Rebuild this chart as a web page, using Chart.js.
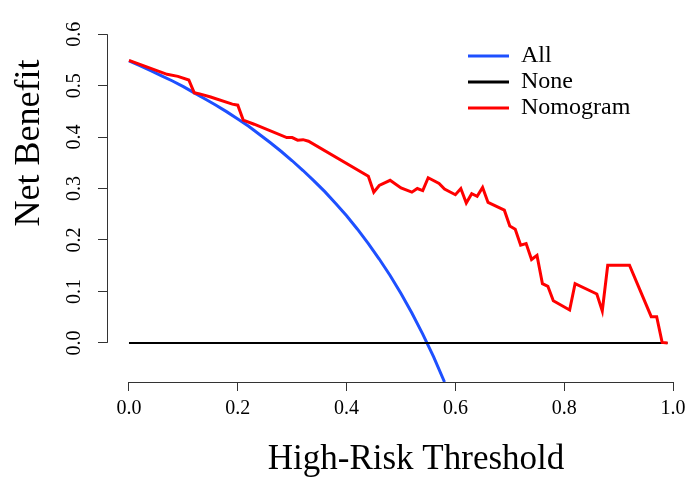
<!DOCTYPE html>
<html>
<head>
<meta charset="utf-8">
<script src="https://cdn.jsdelivr.net/npm/chart.js@4"></script>
<style>
  html, body { margin: 0; padding: 0; background: #fff; }
  #wrap { width: 694px; height: 480px; }
</style>
</head>
<body>
<div id="wrap"><canvas id="dcaChart" width="694" height="480"></canvas></div>
<script>
// thresholds + net benefit
const thresholdAll = [0, 0.02, 0.04, 0.06, 0.08, 0.10, 0.12, 0.14, 0.16, 0.18, 0.20, 0.22, 0.24, 0.26, 0.28,
    0.30, 0.32, 0.34, 0.36, 0.38, 0.40, 0.42, 0.44, 0.46, 0.48, 0.50, 0.52, 0.54, 0.56, 0.58]
const netBenefitAll = [0.548, 0.539, 0.529, 0.519, 0.509, 0.498, 0.486, 0.474, 0.462, 0.449, 0.435, 0.421, 0.405, 0.389, 0.372,
    0.354, 0.335, 0.315, 0.294, 0.271, 0.247, 0.221, 0.193, 0.163, 0.131, 0.096, 0.058, 0.017, -0.027, -0.076]

const thresholdNone = [0, 0.99]
const netBenefitNone = [0, 0]

const thresholdNomogram = [0, 0.07, 0.09, 0.11, 0.12, 0.13, 0.15, 0.19, 0.20, 0.21, 0.23, 0.29, 0.30, 0.31, 0.32, 0.33,
    0.44, 0.45, 0.46, 0.48, 0.50, 0.52, 0.53, 0.54, 0.55, 0.57, 0.58, 0.60, 0.61, 0.62, 0.63, 0.64, 0.65, 0.66,
    0.69, 0.70, 0.71, 0.72, 0.73, 0.74, 0.75, 0.76, 0.77, 0.78, 0.81, 0.82, 0.86, 0.87, 0.88, 0.92, 0.96, 0.97, 0.98, 0.99]
const netBenefitNomogram = [0.549, 0.522, 0.518, 0.511, 0.486, 0.484, 0.478, 0.464, 0.462, 0.433, 0.425, 0.399, 0.399, 0.394, 0.395, 0.392,
    0.324, 0.293, 0.306, 0.316, 0.301, 0.293, 0.300, 0.296, 0.321, 0.310, 0.299, 0.288, 0.300, 0.272, 0.290, 0.285, 0.302, 0.273,
    0.258, 0.227, 0.221, 0.190, 0.193, 0.162, 0.170, 0.115, 0.110, 0.082, 0.064, 0.115, 0.095, 0.062, 0.151, 0.151, 0.051, 0.051, 0.001, 0]

const xTicks = [0, 0.2, 0.4, 0.6, 0.8, 1.0]
const yTicks = [0, 0.1, 0.2, 0.3, 0.4, 0.5, 0.6]

const serif = "'Liberation Serif', 'Times New Roman', serif"

const toPoints = (xs, ys) => xs.map((x, i) => ({ x: x, y: ys[i] }))

const data = {
    datasets: [
        {
            label: 'All',
            data: toPoints(thresholdAll, netBenefitAll),
            borderColor: 'rgb(30, 80, 255)',
            borderWidth: 3,
            pointRadius: 0,
            order: 3
        },
        {
            label: 'None',
            data: toPoints(thresholdNone, netBenefitNone),
            borderColor: '#000',
            borderWidth: 2,
            pointRadius: 0,
            order: 2
        },
        {
            label: 'Nomogram',
            data: toPoints(thresholdNomogram, netBenefitNomogram),
            borderColor: 'rgb(255, 0, 0)',
            borderWidth: 3,
            pointRadius: 0,
            order: 1
        }
    ]
}

// R-style detached axes, rotated y labels, titles and legend
const rStyle = {
    id: 'rStyle',
    afterDraw(chart) {
        const ctx = chart.ctx
        const xs = chart.scales.x
        const ys = chart.scales.y
        const area = chart.chartArea
        ctx.save()
        ctx.strokeStyle = '#333'
        ctx.lineWidth = 1
        ctx.beginPath()
        ctx.moveTo(xs.getPixelForValue(xTicks[0]), area.bottom + 0.5)
        ctx.lineTo(xs.getPixelForValue(xTicks[xTicks.length - 1]), area.bottom + 0.5)
        ctx.moveTo(area.left + 0.5, ys.getPixelForValue(yTicks[0]))
        ctx.lineTo(area.left + 0.5, ys.getPixelForValue(yTicks[yTicks.length - 1]))
        ctx.stroke()

        ctx.fillStyle = '#000'
        ctx.textAlign = 'center'
        ctx.textBaseline = 'middle'
        ctx.font = '20px ' + serif
        yTicks.forEach(v => {
            ctx.save()
            ctx.translate(75, ys.getPixelForValue(v))
            ctx.rotate(-Math.PI / 2)
            ctx.fillText(v.toFixed(1), 0, 0)
            ctx.restore()
        })

        ctx.font = '35px ' + serif
        ctx.fillText('High-Risk Threshold', 416, 460)
        ctx.font = '36px ' + serif
        ctx.save()
        ctx.translate(30, 143)
        ctx.rotate(-Math.PI / 2)
        ctx.fillText('Net Benefit', 0, 0)
        ctx.restore()

        // legend
        ctx.font = '24px ' + serif
        ctx.textAlign = 'left'
        chart.data.datasets.forEach((ds, i) => {
            const y = 56 + i * 26
            ctx.strokeStyle = ds.borderColor
            ctx.lineWidth = 3
            ctx.beginPath()
            ctx.moveTo(468, y)
            ctx.lineTo(509, y)
            ctx.stroke()
            ctx.fillText(ds.label, 521, y)
        })
        ctx.restore()
    }
}

const config = {
    type: 'line',
    data: data,
    options: {
        responsive: false,
        animation: false,
        layout: { padding: { top: 20.6, right: 0, left: 0, bottom: 0 } },
        plugins: { legend: { display: false }, tooltip: { enabled: false } },
        scales: {
            x: {
                type: 'linear',
                min: -0.0404,
                max: 1.0386,
                border: { display: false },
                grid: { drawOnChartArea: false, drawTicks: true, tickLength: 9, color: '#333' },
                ticks: {
                    stepSize: 0.2,
                    includeBounds: false,
                    maxRotation: 0,
                    autoSkip: false,
                    padding: 6,
                    color: '#000',
                    font: { family: serif, size: 20 },
                    callback: v => v.toFixed(1)
                },
                afterFit: s => { s.height = 98 }
            },
            y: {
                type: 'linear',
                min: -0.076,
                max: 0.6264,
                border: { display: false },
                grid: { drawOnChartArea: false, drawTicks: true, tickLength: 9, color: '#333' },
                ticks: { stepSize: 0.1, includeBounds: false, display: false },
                afterFit: s => { s.width = 107 }
            }
        }
    },
    plugins: [rStyle]
}

new Chart(
    document.getElementById('dcaChart').getContext('2d'),
    config
)
</script>
</body>
</html>
